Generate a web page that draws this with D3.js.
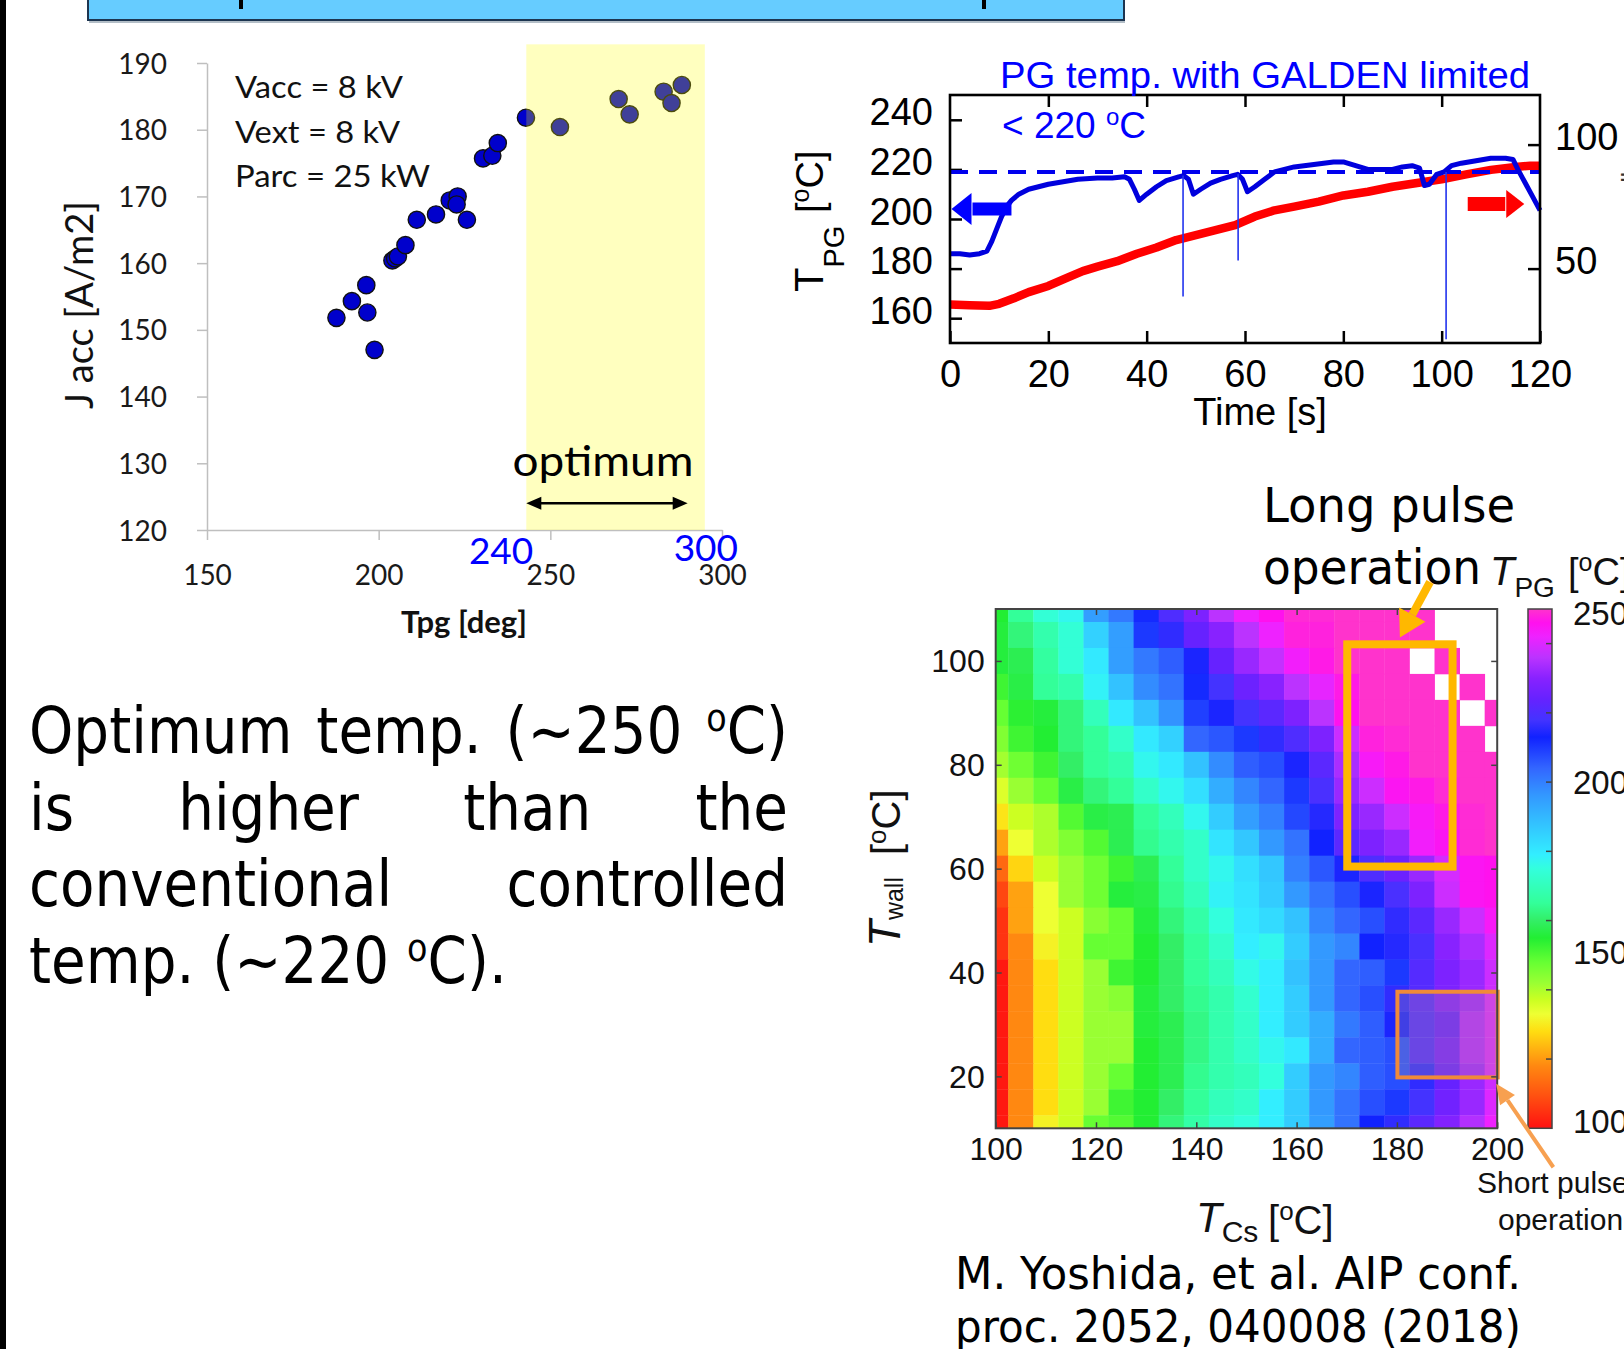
<!DOCTYPE html>
<html><head><meta charset="utf-8">
<script src="https://cdn.jsdelivr.net/npm/d3@7"></script>
<style>body{margin:0;background:#fff;}svg{display:block;}</style>
</head><body>
<svg id="c" width="1624" height="1349"></svg>
<script>
// ================= DATA =================
// Scatter: J acc vs Tpg
const tpg  = [187.7,192.2,196.4,196.7,198.8,204.0,204.8,205.6,207.8,211.1,216.7,220.7,223.0,222.7,225.7,230.4,233.1,234.7,242.9,252.8,269.9,273.1,283.0,285.3,288.3];
const jacc = [151.8,154.3,156.7,152.6,147.0,160.4,160.7,161.0,162.7,166.5,167.3,169.4,170.0,168.8,166.5,175.7,176.1,178.0,181.8,180.4,184.6,182.3,185.7,184.0,186.7];
const scatterXTicks = [150,200,250,300];
const scatterYTicks = [120,130,140,150,160,170,180,190];
const optimumRange = [243,295];
const optimumTop = 192.8;
const optimumArrow = [243,290];
const optimumArrowY = 124;
const scatterNotes = ["Vacc = 8 kV","Vext = 8 kV","Parc = 25 kW"];

// Time trace: PG temperature (left axis) and right-axis trace
const blueTime = [0,2,4,6,7.5,8.5,9.5,10.5,11.5,12.5,14,16,18,20,23,26,30,33,35.5,36.5,37.5,38.5,40,42,44,46.5,47.5,48.5,49.5,51,53,55,57.5,58.5,59.5,60.5,62,64,66,70,74,78,80,85,90,92,94,95.5,96.5,97.5,99,100.5,102,104,107,110,113,114.5,115.5,117,118.5,120];
const blueTemp = [186,186,185.5,186,187,191,196,201,205,207.5,210,212,213,214,215,216,216.5,216.5,217,216,212,207.5,210,213,215.5,217,217.5,216,210,212,214.5,216,217.5,218,216,211,213,216,219,221,222,223,223,220,220,221,221.5,220.5,213.5,214,218,219,221.5,222.5,223.5,224.5,224.5,224,220,214.5,209,203.5];
const spikeTime = [47.4,58.6,100.9];
const spikeTop  = [217.5,218,219];
const spikeMin  = [168.8,183.3,151.5];
const redTime = [0,4,8,10,13,16,20,24,27,30,34,38,42,46,50,54,58,62,66,70,75,80,85,90,95,100,105,110,115,118,120];
const redVal  = [35.5,35.2,35,35.8,38,40.5,43,46.5,49,50.8,53,56,58.5,61.5,63.5,65.5,67.5,71,73.5,75,77,79.5,81,83,84.5,86,88,89.8,91,91.5,91.5];
const limitTemp = 219;
const timeTicks = [0,20,40,60,80,100,120];
const leftTicks = [160,180,200,220,240];
const rightTicks = [50,100];
const blueArrow = {from:12.5, to:0.3, at:204};
const redArrow = {from:105.3, to:116.8, at:76};

// Heatmap: T_PG over (T_Cs, T_wall)
const tCs   = [100,105,110,115,120,125,130,135,140,145,150,155,160,165,170,175,180,185,190,195,200];
const tWall = [110,105,100,95,90,85,80,75,70,65,60,55,50,45,40,35,30,25,20,15,10];
const tPG = [
 [155,165,174,177,195,201,212,220,228,236,242,246,249,249,250,250,250,250,null,null,null],
 [156,162,168,174,185,195,210,216,224,230,236,242,248,248,250,250,250,250,null,null,null],
 [156,158,166,174,180,195,201,205,214,224,232,237,243,247,250,250,250,null,250,null,null],
 [152,157,165,168,178,188,198,202,212,218,225,230,236,241,247,250,250,250,null,250,null],
 [148,154,156,162,170,180,188,197,209,214,218,222,228,236,246,250,250,250,250,null,250],
 [145,152,155,162,165,172,180,185,204,206,210,216,220,228,238,248,249,250,250,250,null],
 [141,147,152,160,165,168,177,180,188,198,205,207,214,222,234,244,247,250,250,250,250],
 [135,142,148,157,162,165,172,177,182,192,199,204,210,219,232,238,245,247,249,250,250],
 [129,137,140,150,157,158,165,170,177,186,195,200,208,215,228,232,238,244,247,249,250],
 [121,133,140,145,150,158,164,168,172,181,187,196,202,213,222,228,232,243,245,249,250],
 [113,127,137,142,147,152,158,165,172,177,182,187,200,206,214,220,225,232,239,245,246],
 [108,121,133,142,147,156,157,164,170,178,181,186,196,202,207,214,219,228,238,245,246],
 [105,121,133,137,144,148,156,162,167,175,180,183,188,199,204,207,216,222,232,238,244],
 [105,118,131,137,148,148,155,160,165,172,179,177,186,196,199,213,215,219,230,234,240],
 [101,118,128,137,142,152,155,160,165,170,176,179,188,196,204,205,210,221,228,232,238],
 [101,118,128,137,142,144,156,160,164,168,173,179,186,196,204,207,216,221,228,232,238],
 [101,118,128,137,142,142,156,158,163,168,172,179,186,192,201,205,214,220,224,234,238],
 [101,118,128,137,142,142,155,158,163,168,172,177,180,192,204,205,207,220,226,234,238],
 [101,118,128,137,142,148,155,158,164,168,170,175,186,196,199,205,207,216,224,232,238],
 [101,118,128,137,142,152,155,160,165,170,172,179,186,196,202,207,210,218,226,232,240],
 [101,118,131,137,148,150,155,162,167,172,175,179,186,195,202,213,216,222,229,235,242]
];
const cmapValues = [100,110,118,128,133,137,142,148,155,160,165,170,175,179,186,196,204,213,218,224,230,236,242,246,250];
const cmapColors = ["#ff1111","#ff5511","#ff8811","#ffdd11","#eeff33","#ccff22","#99ff33","#66ff33","#22ee33","#33ee66","#33ff99","#33ffbb","#33ffdd","#33eeff","#33ccff","#3399ff","#3366ff","#1122ff","#4433ff","#6622ff","#8822ff","#bb33ff","#ee22ff","#ff11ee","#ff33cc"];
const hmXTicks = [100,120,140,160,180,200];
const hmYTicks = [20,40,60,80,100];
const cbTicks = [100,150,200,250];
const cbMinor = [120,140,160,180,200,220,240];
const longBox = {x0:170.1, x1:191.1, y0:60.4, y1:103.2};
const shortBox = {x0:180.1, x1:200.1, y0:19.8, y1:36.3};
const longArrow = [[186.6,115.2],[180.6,104.5]];
const shortArrow = [[211.2,2.5],[199.8,18.6]];

// ================= DRAW =================
const svg = d3.select('#c');
const SANS = '"Liberation Sans", Arial, sans-serif';
const LATO = 'Lato, "Open Sans", sans-serif';
const BODY = '"DejaVu Sans", Verdana, sans-serif';

function rich(txt, segs){
  let cur = 0;
  segs.forEach(s=>{
    const target = s.sup ? -s.shift : (s.sub ? s.shift : 0);
    const ts = txt.append('tspan').text(s.t);
    if (target !== cur) ts.attr('dy', target - cur);
    cur = target;
    if (s.size) ts.attr('font-size', s.size);
    if (s.italic) ts.attr('font-style','italic');
  });
  return txt;
}
function arrowHead(g, x1,y1,x2,y2, len, wid, color){
  const a = Math.atan2(y2-y1, x2-x1);
  const bx = x2 - len*Math.cos(a), by = y2 - len*Math.sin(a);
  const px = -Math.sin(a)*wid/2, py = Math.cos(a)*wid/2;
  g.append('path').attr('d',`M${x2},${y2}L${bx+px},${by+py}L${bx-px},${by-py}Z`).attr('fill',color);
  return [bx,by];
}

// page decorations
svg.append('rect').attr('x',0).attr('y',0).attr('width',6).attr('height',1349).attr('fill','#000');
svg.append('rect').attr('x',88).attr('y',-10).attr('width',1036).attr('height',30).attr('fill','#66ccff').attr('stroke','#1d3550').attr('stroke-width',2);
svg.append('line').attr('x1',89).attr('x2',1125).attr('y1',22).attr('y2',22).attr('stroke','#9aa8b4').attr('stroke-width',1.5);
svg.append('rect').attr('x',239).attr('y',0).attr('width',4).attr('height',9).attr('fill','#000');
svg.append('rect').attr('x',982).attr('y',0).attr('width',4).attr('height',9).attr('fill','#000');

// ---------- Scatter ----------
const sx = d3.scaleLinear().domain([150,300]).range([207,722]);
const sy = d3.scaleLinear().domain([120,190]).range([530,63]);
const gS = svg.append('g');
const gy = gS.append('g').attr('transform','translate(207,0)')
  .call(d3.axisLeft(sy).tickValues(scatterYTicks).tickSize(10).tickSizeOuter(0).tickPadding(30));
const gx = gS.append('g').attr('transform','translate(0,530)')
  .call(d3.axisBottom(sx).tickValues(scatterXTicks).tickSize(10).tickSizeOuter(0));
[gy,gx].forEach(g=>{
  g.select('.domain').attr('stroke','#bfbfbf').attr('stroke-width',1.5);
  g.selectAll('.tick line').attr('stroke','#bfbfbf').attr('stroke-width',1.5);
  g.selectAll('.tick text').attr('font-family',LATO).attr('font-size',28).attr('fill','#1a1a1a');
});
gy.selectAll('.tick text').attr('dy','0.36em');
gx.selectAll('.tick text').attr('y',55).attr('dy',0);
gS.selectAll('circle.pt').data(tpg).join('circle').attr('class','pt')
  .attr('cx',(d)=>sx(d)).attr('cy',(d,i)=>sy(jacc[i])).attr('r',8.6)
  .attr('fill','#0000cc').attr('stroke','#111').attr('stroke-width',1.4);
gS.append('rect').attr('x',sx(optimumRange[0])).attr('y',sy(optimumTop))
  .attr('width',sx(optimumRange[1])-sx(optimumRange[0])).attr('height',sy(120)-sy(optimumTop))
  .attr('fill','#ffff00').attr('opacity',0.25);
// optimum arrow
{
  const ya = sy(optimumArrowY), xa = sx(optimumArrow[0]), xb = sx(optimumArrow[1]);
  arrowHead(gS, xb, ya, xa, ya, 15, 13, '#000');
  arrowHead(gS, xa, ya, xb, ya, 15, 13, '#000');
  gS.append('line').attr('x1',xa+10).attr('x2',xb-10).attr('y1',ya).attr('y2',ya).attr('stroke','#000').attr('stroke-width',2.5);
  gS.append('text').attr('x',(xa+xb)/2-4).attr('y',sy(128.1)).attr('text-anchor','middle')
    .attr('font-family',LATO).attr('font-size',43).attr('textLength',181).attr('lengthAdjust','spacingAndGlyphs').text('optimum');
  gS.append('text').attr('x',sx(optimumRange[0])+7).attr('y',564).attr('text-anchor','end')
    .attr('font-family',LATO).attr('font-size',37).attr('fill','#0000ff').text('240');
  gS.append('text').attr('x',sx(optimumRange[1])+1).attr('y',561).attr('text-anchor','middle')
    .attr('font-family',LATO).attr('font-size',37).attr('fill','#0000ff').text('300');
}
const noteW = [168,165,195];
scatterNotes.forEach((t,i)=>{
  gS.append('text').attr('x',235).attr('y',98+i*44.5).attr('font-family',LATO).attr('font-size',30)
    .attr('textLength',noteW[i]).attr('lengthAdjust','spacingAndGlyphs').attr('fill','#111').text(t);
});
gS.append('text').attr('x',464).attr('y',633).attr('text-anchor','middle').attr('font-family',LATO)
  .attr('font-weight','bold').attr('font-size',31).attr('fill','#111').text('Tpg [deg]');
gS.append('text').attr('transform','translate(93,305) rotate(-90)').attr('text-anchor','middle')
  .attr('font-family',LATO).attr('font-size',38).attr('fill','#111').text('J acc [A/m2]');

// ---------- Time trace ----------
const tx = d3.scaleLinear().domain([0,120]).range([950,1540]);
const tyL = d3.scaleLinear().domain([150,250]).range([343,95]);
const tyR = d3.scaleLinear().domain([20,120]).range([343,95]);
const gT = svg.append('g');
const axL = gT.append('g').attr('transform','translate(950,0)').call(d3.axisLeft(tyL).tickValues(leftTicks).tickSize(-12).tickSizeOuter(0).tickPadding(17));
const axR = gT.append('g').attr('transform','translate(1540,0)').call(d3.axisRight(tyR).tickValues(rightTicks).tickSize(-12).tickSizeOuter(0).tickPadding(15));
const axB = gT.append('g').attr('transform','translate(0,343)').call(d3.axisBottom(tx).tickValues(timeTicks).tickSize(-12).tickSizeOuter(0));
const axT = gT.append('g').attr('transform','translate(0,95)').call(d3.axisTop(tx).tickValues(timeTicks.slice(1,-1)).tickSize(-12).tickSizeOuter(0));
[axL,axR,axB,axT].forEach(g=>{
  g.select('.domain').remove();
  g.selectAll('.tick line').attr('stroke','#000').attr('stroke-width',2.5);
  g.selectAll('.tick text').attr('font-family',SANS).attr('font-size',38).attr('fill','#000');
});
axT.selectAll('.tick text').remove();
axL.selectAll('.tick text').attr('dy',0).attr('y',5);
axR.selectAll('.tick text').attr('dy',0).attr('y',5);
axB.selectAll('.tick text').attr('dy',0).attr('y',44);
const lineR = d3.line().x((d,i)=>tx(redTime[i])).y(d=>tyR(d));
gT.append('path').attr('d',lineR(redVal)).attr('fill','none').attr('stroke','#ff0000').attr('stroke-width',8.5).attr('stroke-linejoin','round');
gT.append('line').attr('x1',tx(0)).attr('x2',tx(120)).attr('y1',tyL(limitTemp)).attr('y2',tyL(limitTemp))
  .attr('stroke','#0000ee').attr('stroke-width',4).attr('stroke-dasharray','18 11');
const lineB = d3.line().x((d,i)=>tx(blueTime[i])).y(d=>tyL(d));
gT.append('path').attr('d',lineB(blueTemp)).attr('fill','none').attr('stroke','#0000dd').attr('stroke-width',5).attr('stroke-linejoin','round');
spikeTime.forEach((t,i)=>{
  gT.append('line').attr('x1',tx(t)).attr('x2',tx(t)).attr('y1',tyL(spikeTop[i])).attr('y2',tyL(spikeMin[i]))
    .attr('stroke','#2233ee').attr('stroke-width',1.6);
});
// direction arrows
{
  const y = tyL(blueArrow.at);
  const [bx] = arrowHead(gT, tx(blueArrow.from), y, tx(blueArrow.to), y, 20, 32, '#0000ff');
  gT.append('line').attr('x1',bx+1).attr('x2',tx(blueArrow.from)).attr('y1',y).attr('y2',y).attr('stroke','#0000ff').attr('stroke-width',13);
  const y2 = tyR(redArrow.at);
  const [rx] = arrowHead(gT, tx(redArrow.from), y2, tx(redArrow.to), y2, 18, 28, '#ff0000');
  gT.append('line').attr('x1',tx(redArrow.from)).attr('x2',rx-1).attr('y1',y2).attr('y2',y2).attr('stroke','#ff0000').attr('stroke-width',14);
}
gT.append('rect').attr('x',950).attr('y',95).attr('width',590).attr('height',248).attr('fill','none').attr('stroke','#000').attr('stroke-width',2.6);
gT.append('text').attr('x',1000).attr('y',88).attr('font-family',SANS).attr('font-size',36).attr('fill','#0000ff')
  .attr('textLength',530).attr('lengthAdjust','spacingAndGlyphs').text('PG temp. with GALDEN limited');
rich(gT.append('text').attr('x',1002).attr('y',138).attr('font-family',SANS).attr('font-size',37).attr('fill','#0000ff'),
  [{t:'< 220 '},{t:'o',sup:1,shift:13,size:24},{t:'C'}]);
gT.append('text').attr('x',1260).attr('y',425).attr('text-anchor','middle').attr('font-family',SANS).attr('font-size',38).text('Time [s]');
{
  const g = gT.append('g').attr('transform','translate(823,292) rotate(-90)').attr('font-family',SANS);
  rich(g.append('text').attr('x',0).attr('y',0).attr('font-size',40), [{t:'T'},{t:'PG',sub:1,shift:21,size:29}]);
  rich(g.append('text').attr('x',79).attr('y',0).attr('font-size',38), [{t:'['},{t:'o',sup:1,shift:14,size:25},{t:'C]'}]);
  // right-axis title, only a sliver visible at the page edge
  gT.append('text').attr('transform','translate(1640,213) rotate(-90)').attr('font-family',SANS)
    .attr('font-size',26).attr('fill','#333').attr('textLength',41).attr('lengthAdjust','spacingAndGlyphs').text('wall');
}

// ---------- Heatmap ----------
const hx = d3.scaleLinear().domain([100,200]).range([995.7,1497.2]);
const hy = d3.scaleLinear().domain([10,110]).range([1128.3,609]);
const cmap = d3.scaleLinear().domain(cmapValues).range(cmapColors).clamp(true);
const gH = svg.append('g');
const cells = [];
tPG.forEach((row,r)=>row.forEach((v,c)=>{ if(v!==null) cells.push({r,c,v}); }));
gH.selectAll('rect.cell').data(cells).join('rect').attr('class','cell')
  .attr('x',d=>hx(Math.max(100,tCs[d.c]-2.5)))
  .attr('width',d=>hx(Math.min(200,tCs[d.c]+2.5))-hx(Math.max(100,tCs[d.c]-2.5))+0.4)
  .attr('y',d=>hy(Math.min(110,tWall[d.r]+2.5)))
  .attr('height',d=>hy(Math.max(10,tWall[d.r]-2.5))-hy(Math.min(110,tWall[d.r]+2.5))+0.4)
  .attr('fill',d=>cmap(d.v));
// short pulse box
gH.append('rect').attr('x',hx(shortBox.x0)).attr('y',hy(shortBox.y1)).attr('width',hx(shortBox.x1)-hx(shortBox.x0)).attr('height',hy(shortBox.y0)-hy(shortBox.y1))
  .attr('fill','rgb(215,170,120)').attr('fill-opacity',0.2).attr('stroke','#f08a3a').attr('stroke-width',4);
// long pulse box
gH.append('rect').attr('x',hx(longBox.x0)).attr('y',hy(longBox.y1)).attr('width',hx(longBox.x1)-hx(longBox.x0)).attr('height',hy(longBox.y0)-hy(longBox.y1))
  .attr('fill','none').attr('stroke','#ffb800').attr('stroke-width',8);
// axes
const hL = gH.append('g').attr('transform','translate(995.7,0)').call(d3.axisLeft(hy).tickValues(hmYTicks).tickSize(-6).tickSizeOuter(0).tickPadding(11));
const hR = gH.append('g').attr('transform','translate(1497.2,0)').call(d3.axisRight(hy).tickValues(hmYTicks).tickSize(-6).tickSizeOuter(0));
const hB = gH.append('g').attr('transform','translate(0,1128.3)').call(d3.axisBottom(hx).tickValues(hmXTicks).tickSize(-6).tickSizeOuter(0));
const hT = gH.append('g').attr('transform','translate(0,609)').call(d3.axisTop(hx).tickValues(hmXTicks.slice(1,-1)).tickSize(-6).tickSizeOuter(0));
[hL,hR,hB,hT].forEach(g=>{
  g.select('.domain').remove();
  g.selectAll('.tick line').attr('stroke','#444').attr('stroke-width',1.5);
  g.selectAll('.tick text').attr('font-family',SANS).attr('font-size',32).attr('fill','#111');
});
hR.selectAll('.tick text').remove(); hT.selectAll('.tick text').remove();
hL.selectAll('.tick text').attr('dy',0).attr('y',11);
hB.selectAll('.tick text').attr('dy',0).attr('y',32);
gH.append('rect').attr('x',995.7).attr('y',609).attr('width',hx(200)-hx(100)).attr('height',hy(10)-hy(110))
  .attr('fill','none').attr('stroke','#444').attr('stroke-width',2);
// colorbar
const cb = d3.scaleLinear().domain([100,250]).range([1128.3,609]);
const cbLabel = d3.scaleLinear().domain([100,250]).range([1133,625]);
const grad = svg.append('defs').append('linearGradient').attr('id','cbg').attr('x1',0).attr('x2',0).attr('y1',1).attr('y2',0);
cmapValues.forEach((v,i)=>grad.append('stop').attr('offset',(v-100)/150).attr('stop-color',cmapColors[i]));
gH.append('rect').attr('x',1528).attr('y',cb(250)).attr('width',24).attr('height',cb(100)-cb(250)).attr('fill','url(#cbg)');
cbMinor.forEach(v=>{
  gH.append('line').attr('x1',1546).attr('x2',1552).attr('y1',cb(v)).attr('y2',cb(v)).attr('stroke','#444').attr('stroke-width',1.5);
});
gH.append('rect').attr('x',1528).attr('y',cb(250)).attr('width',24).attr('height',cb(100)-cb(250)).attr('fill','none').attr('stroke','#444').attr('stroke-width',1.5);
cbTicks.forEach(v=>{
  gH.append('text').attr('x',1573).attr('y',cbLabel(v)).attr('font-family',SANS).attr('font-size',33).attr('fill','#111').text(v);
});
rich(gH.append('text').attr('x',1490).attr('y',585).attr('font-family',SANS).attr('font-size',40).attr('fill','#111'),
  [{t:'T',italic:1},{t:'PG',sub:1,shift:12,size:28}]);
rich(gH.append('text').attr('x',1568).attr('y',585).attr('font-family',SANS).attr('font-size',38).attr('fill','#111'),
  [{t:'['},{t:'o',sup:1,shift:14,size:25},{t:'C]'}]);
// axis titles
rich(gH.append('text').attr('x',1196).attr('y',1232).attr('font-family',SANS).attr('font-size',42).attr('fill','#111'),
  [{t:'T',italic:1},{t:'Cs',sub:1,shift:10,size:30}]);
rich(gH.append('text').attr('x',1268).attr('y',1234).attr('font-family',SANS).attr('font-size',40).attr('fill','#111'),
  [{t:'['},{t:'o',sup:1,shift:14,size:26},{t:'C]'}]);
{
  const g = gH.append('g').attr('transform','translate(900,947) rotate(-90)').attr('font-family',SANS).attr('fill','#111');
  rich(g.append('text').attr('x',0).attr('y',0).attr('font-size',44), [{t:'T',italic:1},{t:'wall',sub:1,shift:3,size:25}]);
  rich(g.append('text').attr('x',92).attr('y',0).attr('font-size',40), [{t:'['},{t:'o',sup:1,shift:14,size:26},{t:'C]'}]);
}
// annotation arrows
{
  const [a,b] = longArrow;
  const x1=hx(a[0]),y1=hy(a[1]),x2=hx(b[0]),y2=hy(b[1]);
  const [bx,by] = arrowHead(gH,x1,y1,x2,y2,26,30,'#ffb800');
  gH.append('line').attr('x1',x1).attr('y1',y1).attr('x2',bx).attr('y2',by).attr('stroke','#ffb800').attr('stroke-width',8);
  const [c,d] = shortArrow;
  const u1=hx(c[0]),v1=hy(c[1]),u2=hx(d[0]),v2=hy(d[1]);
  const [cx,cy] = arrowHead(gH,u1,v1,u2,v2,20,18,'#f7a050');
  gH.append('line').attr('x1',u1).attr('y1',v1).attr('x2',cx).attr('y2',cy).attr('stroke','#f7a050').attr('stroke-width',4);
}
gH.append('text').attr('x',1263).attr('y',522).attr('font-family',BODY).attr('font-size',48).attr('textLength',252).attr('lengthAdjust','spacingAndGlyphs').text('Long pulse');
gH.append('text').attr('x',1263).attr('y',584).attr('font-family',BODY).attr('font-size',48).attr('textLength',218).attr('lengthAdjust','spacingAndGlyphs').text('operation');
gH.append('text').attr('x',1477).attr('y',1193).attr('font-family',SANS).attr('font-size',30).attr('fill','#111').text('Short pulse');
gH.append('text').attr('x',1498).attr('y',1230).attr('font-family',SANS).attr('font-size',30).attr('fill','#111').text('operation');
// citation
svg.append('text').attr('x',955).attr('y',1289).attr('font-family',BODY).attr('font-size',44).attr('textLength',566).attr('lengthAdjust','spacingAndGlyphs').text('M. Yoshida, et al. AIP conf.');
svg.append('text').attr('x',955).attr('y',1342).attr('font-family',BODY).attr('font-size',44).attr('textLength',566).attr('lengthAdjust','spacingAndGlyphs').text('proc. 2052, 040008 (2018)');

// ---------- Body text (justified) ----------
{
  const fs = 64;
  const gB = svg.append('g').attr('font-family',BODY).attr('font-size',fs).attr('fill','#000');
  const lines = [
    [[{t:'Optimum'}],[{t:'temp.'}],[{t:'(~250'}],[{t:'o',sup:1,shift:22,size:38},{t:'C)'}]],
    [[{t:'is'}],[{t:'higher'}],[{t:'than'}],[{t:'the'}]],
    [[{t:'conventional'}],[{t:'controlled'}]]
  ];
  const last = [{t:'temp. (~220 '},{t:'o',sup:1,shift:22,size:38},{t:'C).'}];
  const baselines = [753,830,906,983];
  const inner = gB.append('g');
  const lastT = rich(inner.append('text').attr('x',0).attr('y',baselines[3]), last);
  const k = 478 / lastT.node().getComputedTextLength();
  inner.attr('transform',`translate(29,0) scale(${k},1)`);
  const W = 759 / k;
  lines.forEach((words,li)=>{
    const nodes = words.map(w=>rich(inner.append('text').attr('y',baselines[li]), w));
    const ws = nodes.map(n=>n.node().getComputedTextLength());
    const gap = (W - d3.sum(ws)) / (words.length-1);
    let x = 0;
    nodes.forEach((n,i)=>{ n.attr('x',x); x += ws[i] + gap; });
  });
}
</script>
</body></html>
